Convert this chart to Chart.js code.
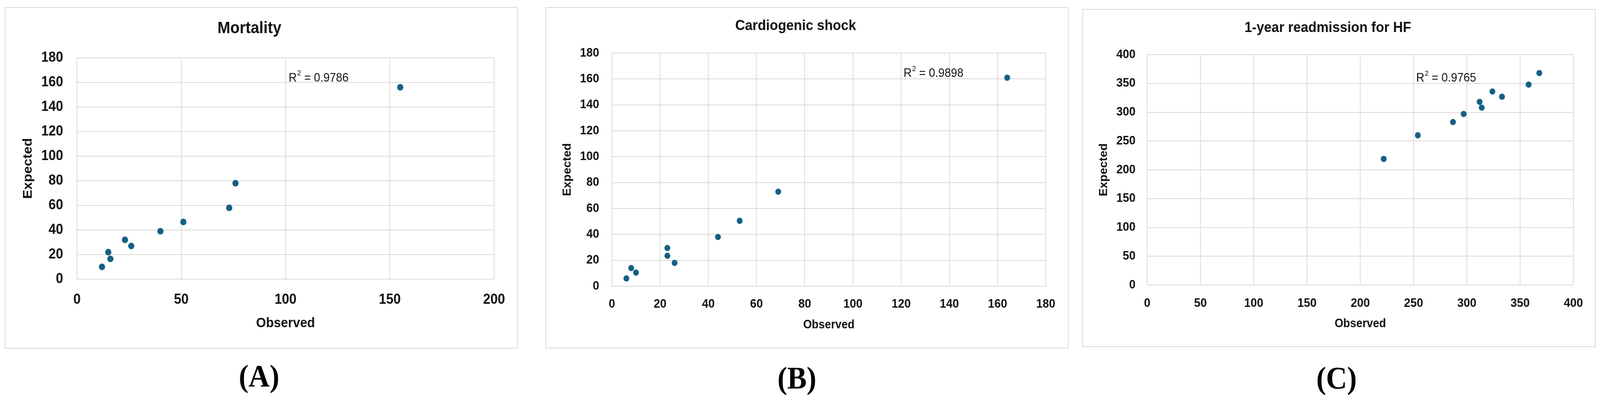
<!DOCTYPE html>
<html>
<head>
<meta charset="utf-8">
<script src="https://cdn.jsdelivr.net/npm/chart.js@4.4.1/dist/chart.umd.min.js"></script>
<style>
    html, body { margin: 0; padding: 0; width: 100%; height: 100%; background: #fff; overflow: hidden; }
    #page { position: absolute; left: 0; top: 0; width: 4385px; height: 1027px; background: #fff; transform-origin: 0 0; }
    .panel { position: absolute; box-sizing: border-box; border: 2px solid #d9d9d9; }
    canvas { position: absolute; }
    .tag { position: absolute; font-family: 'Liberation Serif', 'Times New Roman', serif; font-weight: bold; font-size: 80px; color: #000; transform: translate(-50%, -50%); line-height: 1; }
</style>
</head>
<body>
<div id="page">
    <div class="panel" id="boxA"></div>
    <div class="panel" id="boxB"></div>
    <div class="panel" id="boxC"></div>
    <canvas id="chartA"></canvas>
    <canvas id="chartB"></canvas>
    <canvas id="chartC"></canvas>
    <div class="tag" id="tagA"></div>
    <div class="tag" id="tagB"></div>
    <div class="tag" id="tagC"></div>
</div>
<script>
// values
const titles = ['Mortality', 'Cardiogenic shock', '1-year readmission for HF'];
const xTitle = 'Observed';
const yTitle = 'Expected';
const panelTags = ['(A)', '(B)', '(C)'];

const observedA = [12, 15, 16, 23, 26, 40, 51, 73, 76, 155];
const expectedA = [10, 22, 16.5, 32, 27, 39, 46.5, 58, 78, 156];

const observedB = [6, 8, 10, 23, 23, 26, 44, 53, 69, 164];
const expectedB = [6, 14, 10.5, 29.5, 23.5, 18, 38, 50.5, 73, 161];

const observedC = [222, 254, 287, 297, 312, 314, 324, 333, 358, 368];
const expectedC = [219, 260, 283, 297, 318, 308, 336, 327, 348, 368];

const rSquared = ['0.9786', '0.9898', '0.9765'];

// axis ranges: [min, max, step]
const xAxes = [[0, 200, 50], [0, 180, 20], [0, 400, 50]];
const yAxes = [[0, 180, 20], [0, 180, 20], [0, 400, 50]];

const dotColor = '#156082';
const gridColor = '#d9d9d9';
const font = "'Liberation Sans', Arial, sans-serif";

// the page is laid out at 4385x1027 and stretched over the real window
const page = document.getElementById('page');
const fitX = window.innerWidth / 4385;
const fitY = window.innerHeight / 1027;
page.style.transform = 'scale(' + fitX + ',' + fitY + ')';
const dpr = Math.max(1, (window.devicePixelRatio || 1) * Math.max(fitX, fitY));

// page layout in px: box and plot = [left, top, right, bottom]
const layouts = [
    { box: [13, 18, 1419, 893], plot: [211, 148, 1354, 715], titleY: 73, titleSize: 42, tickSize: 36, axisSize: 35,
      yTickGap: 38, xTickY: 768, xTitleY: 828, yTitleX: 77, dot: 8.5, r2At: [101.5, 163.5], tag: [710, 963] },
    { box: [1495, 18, 2929, 892], plot: [1677, 136, 2866, 733], titleY: 67, titleSize: 37, tickSize: 31.5, axisSize: 30.5,
      yTickGap: 35, xTickY: 779, xTitleY: 833, yTitleX: 1556, dot: 8, r2At: [121, 164.3], tag: [2184, 968] },
    { box: [2966, 23, 4373, 889], plot: [3144, 140, 4312, 730], titleY: 72, titleSize: 37, tickSize: 31.5, axisSize: 30.5,
      yTickGap: 32, xTickY: 777, xTitleY: 830, yTitleX: 3026, dot: 8, r2At: [252.5, 359], tag: [3663, 968] }
];

const series = [[observedA, expectedA], [observedB, expectedB], [observedC, expectedC]];

const r2Label = {
    id: 'r2Label',
    afterDatasetsDraw: (chart, args, opts) => {
        const ctx = chart.ctx;
        const x = chart.scales.x.getPixelForValue(opts.at[0]);
        const y = chart.scales.y.getPixelForValue(opts.at[1]);
        ctx.save();
        ctx.fillStyle = '#111';
        ctx.textBaseline = 'middle';
        ctx.textAlign = 'left';
        ctx.font = opts.size + 'px ' + font;
        ctx.fillText('R', x, y);
        let w = ctx.measureText('R').width;
        ctx.font = Math.round(opts.size * 0.6) + 'px ' + font;
        ctx.fillText('2', x + w + 1, y - opts.size * 0.38);
        w += ctx.measureText('2').width + 1;
        ctx.font = opts.size + 'px ' + font;
        ctx.fillText(' = ' + opts.text, x + w, y);
        ctx.restore();
    }
};

const makeChart = (i) => {
    const L = layouts[i];
    const [bl, bt, br, bb] = L.box;
    const W = br - bl;
    const H = bb - bt;
    const cl = L.plot[0] - bl;
    const ct = L.plot[1] - bt;
    const cr = L.plot[2] - bl;
    const cb = L.plot[3] - bt;

    const box = document.getElementById('box' + 'ABC'[i]);
    box.style.left = bl + 'px';
    box.style.top = bt + 'px';
    box.style.width = W + 'px';
    box.style.height = H + 'px';

    const tag = document.getElementById('tag' + 'ABC'[i]);
    tag.textContent = panelTags[i];
    tag.style.left = L.tag[0] + 'px';
    tag.style.top = L.tag[1] + 'px';

    const canvas = document.getElementById('chart' + 'ABC'[i]);
    canvas.style.left = bl + 'px';
    canvas.style.top = bt + 'px';
    canvas.style.width = W + 'px';
    canvas.style.height = H + 'px';
    canvas.width = W;
    canvas.height = H;

    const titleLh = L.titleSize * 1.2;
    const titleTop = (L.titleY - bt) - titleLh / 2;
    const tickLh = L.tickSize * 1.2;
    const axisLh = L.axisSize * 1.2;

    const points = series[i][0].map((v, k) => ({ x: v, y: series[i][1][k] }));

    return new Chart(canvas, {
        type: 'scatter',
        data: {
            datasets: [{
                data: points,
                pointRadius: L.dot,
                pointHoverRadius: L.dot,
                pointBackgroundColor: dotColor,
                pointBorderWidth: 0,
                showLine: false
            }]
        },
        options: {
            responsive: false,
            animation: false,
            devicePixelRatio: dpr,
            layout: { padding: { left: 0, top: 0, right: W - cr, bottom: 0 } },
            plugins: {
                legend: { display: false },
                tooltip: { enabled: false },
                title: {
                    display: true,
                    text: titles[i],
                    color: '#111',
                    font: { family: font, size: L.titleSize, weight: 'bold', lineHeight: 1.2 },
                    padding: { top: titleTop, bottom: ct - titleTop - titleLh }
                },
                r2Label: { text: rSquared[i], at: L.r2At, size: 31 }
            },
            scales: {
                x: {
                    type: 'linear',
                    min: xAxes[i][0],
                    max: xAxes[i][1],
                    afterFit: (scale) => { scale.height = H - cb; },
                    grid: { color: gridColor, lineWidth: 2, drawTicks: false },
                    border: { color: gridColor, width: 2 },
                    ticks: {
                        stepSize: xAxes[i][2],
                        color: '#111',
                        padding: (L.xTickY - bt) - cb - tickLh / 2,
                        maxRotation: 0,
                        font: { family: font, size: L.tickSize, weight: 'bold', lineHeight: 1.2 }
                    },
                    title: {
                        display: true,
                        text: xTitle,
                        color: '#111',
                        font: { family: font, size: L.axisSize, weight: 'bold', lineHeight: 1.2 },
                        padding: { top: 0, bottom: (H - (L.xTitleY - bt)) - axisLh / 2 }
                    }
                },
                y: {
                    type: 'linear',
                    min: yAxes[i][0],
                    max: yAxes[i][1],
                    afterFit: (scale) => { scale.width = cl; },
                    grid: { color: gridColor, lineWidth: 2, drawTicks: false },
                    border: { color: gridColor, width: 2 },
                    ticks: {
                        stepSize: yAxes[i][2],
                        color: '#111',
                        padding: L.yTickGap,
                        font: { family: font, size: L.tickSize, weight: 'bold', lineHeight: 1.2 }
                    },
                    title: {
                        display: true,
                        text: yTitle,
                        color: '#111',
                        font: { family: font, size: L.axisSize, weight: 'bold', lineHeight: 1.2 },
                        padding: { top: (L.yTitleX - bl) - axisLh / 2, bottom: 0 }
                    }
                }
            }
        },
        plugins: [r2Label]
    });
};

[0, 1, 2].forEach(makeChart);
</script>
</body>
</html>
